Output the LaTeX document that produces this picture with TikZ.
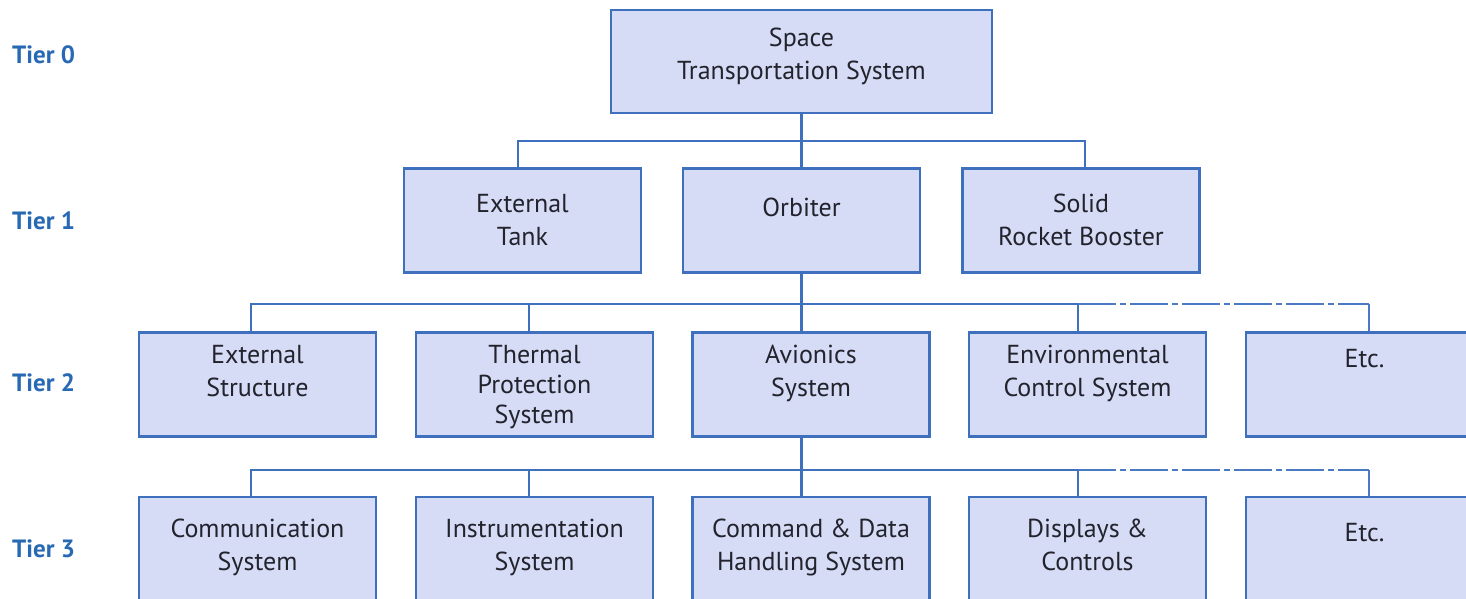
\documentclass[tikz,border=0pt]{standalone}
\usepackage{fontspec}
\setmainfont{PT Sans}
\definecolor{bcol}{RGB}{62,112,190}
\definecolor{dcol}{RGB}{75,122,196}
\definecolor{fcol}{RGB}{214,220,246}
\definecolor{tcol}{RGB}{35,35,45}
\definecolor{tiercol}{RGB}{40,105,180}
\begin{document}
\begin{tikzpicture}[x=1pt,y=-1pt,
  box/.style={draw=bcol,line width=2.2pt,fill=fcol,minimum width=237pt,minimum height=104pt,inner sep=0pt},
  txt/.style={anchor=north,align=center,inner sep=0pt,text=tcol,font=\fontsize{26}{33}\selectfont,execute at begin node=\strut},
  tier/.style={anchor=west,inner sep=0pt,text=tiercol,font=\fontsize{25}{28}\selectfont\bfseries},
  conn/.style={draw=bcol,line width=2.2pt},
  dconn/.style={draw=dcol,line width=2.2pt,dash pattern=on 38pt off 4pt on 6pt off 4pt}]
\useasboundingbox (0,0) rectangle (1466,599);
\clip (0,0) rectangle (1466,599);
\fill[white] (0,0) rectangle (1466,599);

% Tier labels
\node[tier] (tier0) at (12,55) {Tier 0};
\node[tier] (tier1) at (12,221) {Tier 1};
\node[tier] (tier2) at (12,383) {Tier 2};
\node[tier] (tier3) at (12,549) {Tier 3};

% Connectors (drawn first, boxes on top)
% tier 0 -> 1
\coordinate (c0) at (801.5,113);
\draw[conn] (c0) -- (801.5,168.5) coordinate (c1b);
\draw[conn] (518,168.5) coordinate (c1a) -- (518,141) -- (1085,141) -- (1085,168.5) coordinate (c1c);
% tier 1 -> 2
\draw[conn] (801.5,272.5) coordinate (c1s) -- (801.5,332) coordinate (c2c);
\draw[conn] (251,332) coordinate (c2a) -- (251,304) -- (1078,304) -- (1078,332) coordinate (c2d);
\draw[conn] (529,332) coordinate (c2b) -- (529,304);
\draw[dconn] (1078,304) -- (1369,304);
\draw[draw=dcol,line width=2.2pt] (1369,304) -- (1369,332) coordinate (c2e);
% tier 2 -> 3
\draw[conn] (801.5,437) coordinate (c2s) -- (801.5,497) coordinate (c3c);
\draw[conn] (251,497) coordinate (c3a) -- (251,470) -- (1078,470) -- (1078,497) coordinate (c3d);
\draw[conn] (529,497) coordinate (c3b) -- (529,470);
\draw[dconn] (1078,470) -- (1369,470);
\draw[draw=dcol,line width=2.2pt] (1369,470) -- (1369,497) coordinate (c3e);

% Tier 0
\node[box,minimum width=381pt,minimum height=103pt] (b0) at (801.5,61.5) {};
\node[txt] (t0) at (801.5,27.6) {Space\\Transportation System};

% Tier 1
\node[box] (b1a) at (522.5,220.5) {};
\node[box] (b1b) at (801.5,220.5) {};
\node[box] (b1c) at (1081,220.5) {};
\node[txt] (t1a) at (522.5,193.6) {External\\Tank};
\node[txt] (t1b) at (801.5,193.6) {Orbiter};
\node[txt] (t1c) at (1081,193.6) {Solid\\Rocket Booster};

% Tier 2
\node[box] (b2a) at (257.5,384.5) {};
\node[box] (b2b) at (534.5,384.5) {};
\node[box] (b2c) at (811,384.5) {};
\node[box] (b2d) at (1087.5,384.5) {};
\node[box] (b2e) at (1364.5,384.5) {};
\node[txt] (t2a) at (257.5,344.6) {External\\Structure};
\node[txt,font=\fontsize{26}{30}\selectfont] (t2b) at (534.5,344.6) {Thermal\\Protection\\System};
\node[txt] (t2c) at (811,344.6) {Avionics\\System};
\node[txt] (t2d) at (1087.5,344.6) {Environmental\\Control System};
\node[txt] (t2e) at (1364.5,344.6) {Etc.};

% Tier 3
\node[box] (b3a) at (257.5,549) {};
\node[box] (b3b) at (534.5,549) {};
\node[box] (b3c) at (811,549) {};
\node[box] (b3d) at (1087.5,549) {};
\node[box] (b3e) at (1364.5,549) {};
\node[txt] (t3a) at (257.5,518.6) {Communication\\System};
\node[txt] (t3b) at (534.5,518.6) {Instrumentation\\System};
\node[txt] (t3c) at (811,518.6) {Command \& Data\\Handling System};
\node[txt] (t3d) at (1087.5,518.6) {Displays \&\\Controls};
\node[txt] (t3e) at (1364.5,518.6) {Etc.};
\end{tikzpicture}
\end{document}
